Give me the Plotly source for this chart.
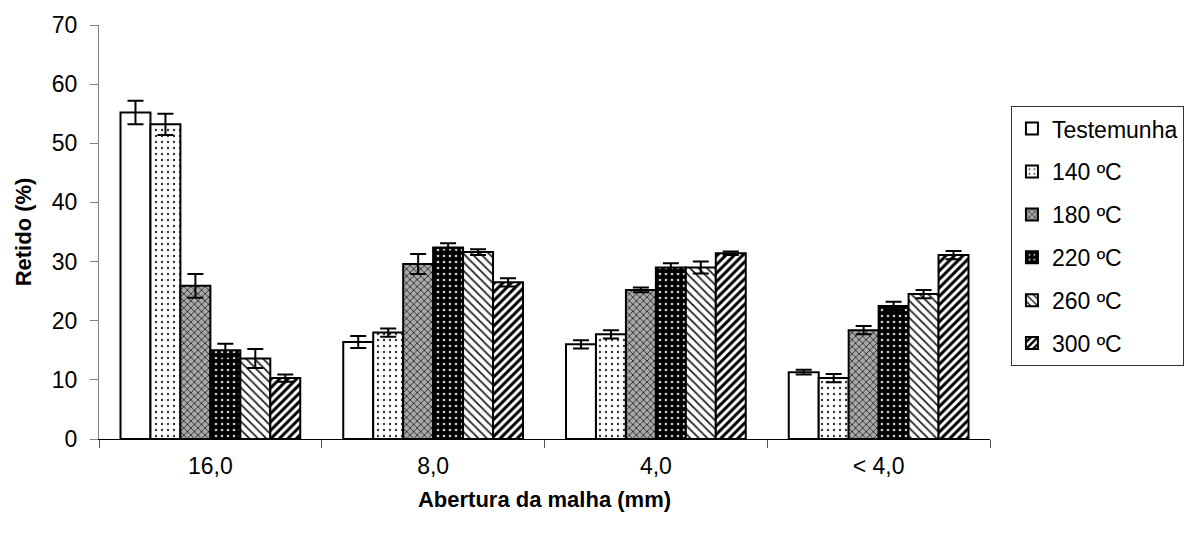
import plotly.graph_objects as go

categories = ["16,0", "8,0", "4,0", "< 4,0"]
series_names = ["Testemunha", "140 ºC", "180 ºC", "220 ºC", "260 ºC", "300 ºC"]

testemunha = [55.2, 16.4, 16.0, 11.3]
t140 = [53.2, 18.0, 17.7, 10.3]
t180 = [25.9, 29.6, 25.2, 18.4]
t220 = [15.0, 32.4, 29.0, 22.5]
t260 = [13.6, 31.6, 29.0, 24.5]
t300 = [10.3, 26.5, 31.4, 31.1]

err_testemunha = [2.0, 1.0, 0.7, 0.4]
err_140 = [1.8, 0.7, 0.7, 0.7]
err_180 = [2.0, 1.7, 0.4, 0.7]
err_220 = [1.1, 0.7, 0.7, 0.7]
err_260 = [1.6, 0.5, 1.0, 0.7]
err_300 = [0.6, 0.7, 0.3, 0.7]

values = [testemunha, t140, t180, t220, t260, t300]
errors = [err_testemunha, err_140, err_180, err_220, err_260, err_300]

styles = [
    dict(shape="", bg="white", fg="black", size=8, solidity=0.2),
    dict(shape=".", bg="white", fg="#333333", size=6, solidity=0.12),
    dict(shape="x", bg="#a8a8a8", fg="#222222", size=5, solidity=0.3),
    dict(shape=".", bg="black", fg="#cfcfcf", size=6, solidity=0.15),
    dict(shape="\\", bg="white", fg="#222222", size=6, solidity=0.3),
    dict(shape="/", bg="white", fg="black", size=6, solidity=0.5),
]

font_family = "Liberation Sans, Arial, sans-serif"

fig = go.Figure()
for name, vals, errs, st in zip(series_names, values, errors, styles):
    fig.add_trace(go.Bar(
        name=name,
        x=categories,
        y=vals,
        legendgroup=name,
        marker=dict(
            color=st["bg"],
            line=dict(color="black", width=2),
            pattern=dict(shape=st["shape"], bgcolor=st["bg"], fgcolor=st["fg"],
                         size=st["size"], solidity=st["solidity"], fillmode="replace"),
        ),
        error_y=dict(type="data", array=errs, visible=True, color="black",
                     thickness=2, width=8),
    ))

fig.update_layout(
    width=1196, height=539,
    margin=dict(l=99, r=204, t=25, b=100),
    paper_bgcolor="white",
    plot_bgcolor="white",
    barmode="group",
    bargap=0.193,
    bargroupgap=0,
    font=dict(family=font_family, size=23, color="black"),
    legend=dict(
        x=1.0235, xanchor="left", y=0.804, yanchor="top",
        bordercolor="#333333", borderwidth=1, bgcolor="white",
        font=dict(family=font_family, size=23, color="black"),
        tracegroupgap=10,
    ),
    showlegend=True,
)

fig.update_xaxes(
    showline=True, linecolor="black", linewidth=1,
    ticks="outside", tickson="boundaries", ticklen=8, tickcolor="#555555", tickwidth=1,
    showgrid=False, tickfont=dict(size=23), ticklabelstandoff=6,
    title=dict(text="<b>Abertura da malha (mm)</b>", font=dict(size=22), standoff=14),
)
fig.update_yaxes(
    range=[0, 70], dtick=10,
    showline=True, linecolor="#808080", linewidth=1,
    ticks="outside", ticklen=8, tickcolor="#808080", tickwidth=1,
    showgrid=False, zeroline=False, tickfont=dict(size=23), ticklabelstandoff=8,
    title=dict(text="<b>Retido (%)</b>", font=dict(size=22), standoff=14),
)

fig.write_html("out.html")
